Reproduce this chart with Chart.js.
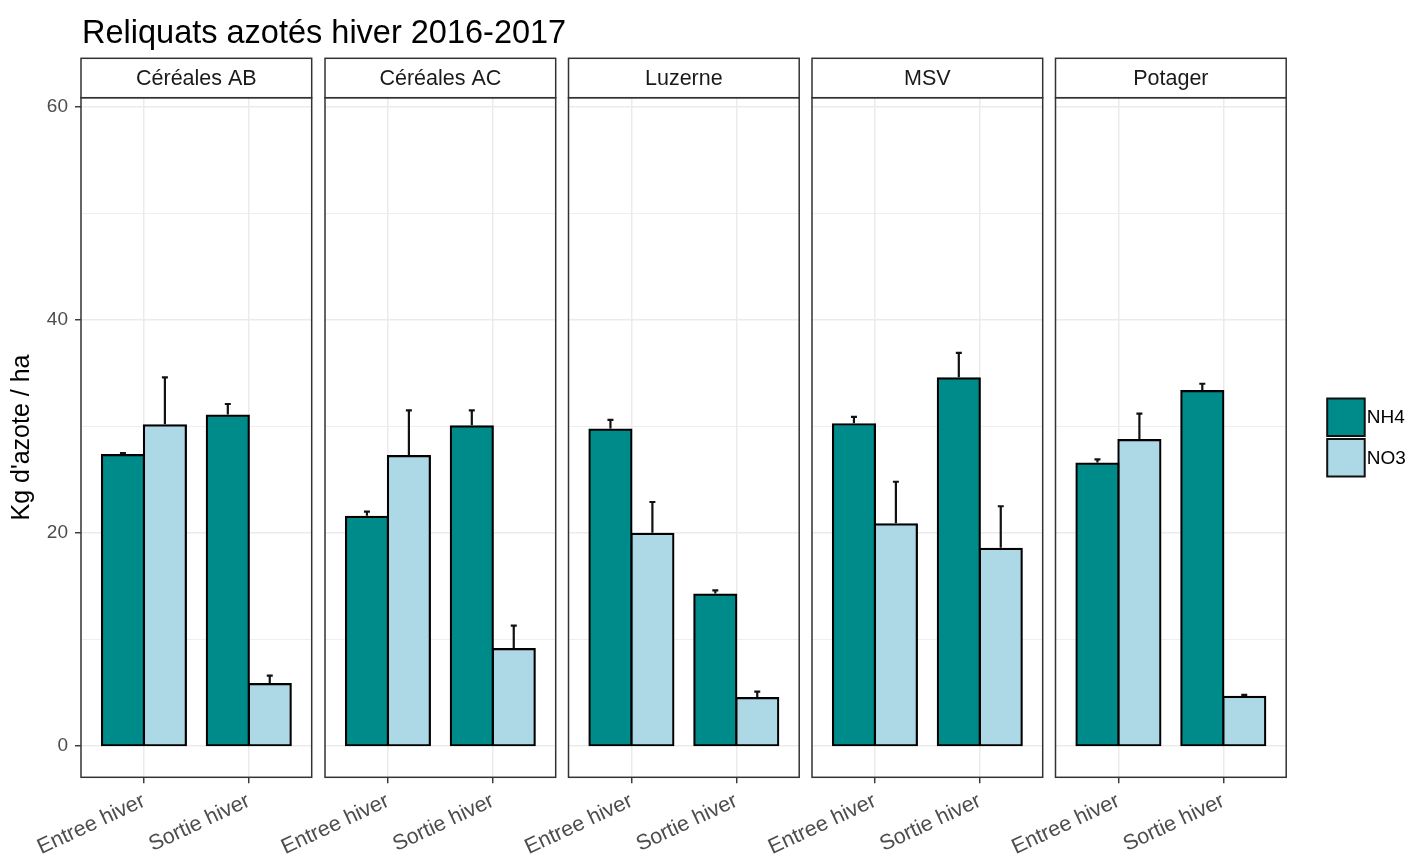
<!DOCTYPE html>
<html>
<head>
<meta charset="utf-8">
<script src="https://cdn.jsdelivr.net/npm/chart.js@4.4.0/dist/chart.umd.min.js"></script>
<style>
  html, body { margin: 0; padding: 0; background: #ffffff; }
  #stage { position: relative; width: 1421px; height: 854px; overflow: hidden; background: #ffffff; }
  #stage canvas { position: absolute; left: 0; top: 0; }
</style>
</head>
<body>
<div id="stage"></div>
<script>
// ---- data ----
const chartTitle = 'Reliquats azotés hiver 2016-2017';
const yAxisTitle = "Kg d'azote / ha";
const cultures = ['Céréales AB', 'Céréales AC', 'Luzerne', 'MSV', 'Potager'];
const periods = ['Entree hiver', 'Sortie hiver'];
const seriesNames = ['NH4', 'NO3'];
// mean per culture, [Entree hiver, Sortie hiver]
const nh4 = [[27.3, 31.0], [21.5, 30.0], [29.7, 14.2], [30.2, 34.5], [26.5, 33.3]];
const no3 = [[30.1, 5.8], [27.2, 9.1], [19.9, 4.5], [20.8, 18.5], [28.7, 4.6]];
// standard error per culture, [Entree hiver, Sortie hiver]
const nh4Err = [[0.2, 1.1], [0.5, 1.5], [0.9, 0.4], [0.7, 2.4], [0.4, 0.7]];
const no3Err = [[4.5, 0.8], [4.3, 2.2], [3.0, 0.6], [4.0, 4.0], [2.5, 0.2]];
const yGridValues = [0, 10, 20, 30, 40, 50, 60];
const yTickLabels = [0, 20, 40, 60];

// ---- layout & style ----
const W = 1421, H = 854;
const FONT = '"Liberation Sans", Arial, Helvetica, sans-serif';
const fills = ['#008B8B', '#ADD8E6'];
const panelLefts = [81, 325, 568.5, 812, 1055.5];
const panelWidth = 230.7;
const plotTop = 97.7, plotBottom = 777.3;
const stripHeight = 39.4;
const frameColor = '#333333';
const barLine = 2.2;

// panel border + facet strip
const facetFrame = {
  id: 'facetFrame',
  afterDraw(chart, args, opts) {
    const { ctx, chartArea: a } = chart;
    ctx.save();
    ctx.strokeStyle = frameColor;
    ctx.lineWidth = 1.5;
    ctx.strokeRect(a.left, a.top, a.right - a.left, a.bottom - a.top);
    ctx.fillStyle = '#ffffff';
    ctx.fillRect(a.left, a.top - stripHeight, a.right - a.left, stripHeight);
    ctx.strokeRect(a.left, a.top - stripHeight, a.right - a.left, stripHeight);
    ctx.fillStyle = '#1a1a1a';
    ctx.font = '21.5px ' + FONT;
    ctx.textAlign = 'center';
    ctx.textBaseline = 'middle';
    ctx.fillText(opts.label, (a.left + a.right) / 2, a.top - stripHeight / 2 + 1);
    ctx.restore();
  }
};

// upper error whiskers on each bar
const errorBars = {
  id: 'errorBars',
  afterDatasetsDraw(chart) {
    const { ctx } = chart;
    const yScale = chart.scales.y;
    ctx.save();
    ctx.strokeStyle = '#111111';
    ctx.lineWidth = 2.2;
    chart.data.datasets.forEach((ds, di) => {
      const meta = chart.getDatasetMeta(di);
      meta.data.forEach((bar, k) => {
        const v = ds.data[k].y;
        const top = yScale.getPixelForValue(v + ds.errors[k]);
        const base = yScale.getPixelForValue(v) - barLine / 2;
        ctx.beginPath();
        ctx.moveTo(bar.x, base);
        ctx.lineTo(bar.x, top);
        ctx.moveTo(bar.x - 3, top);
        ctx.lineTo(bar.x + 3, top);
        ctx.stroke();
      });
    });
    ctx.restore();
  }
};

// plot title, left-aligned on the first panel
const headline = {
  id: 'headline',
  afterDraw(chart) {
    const { ctx, chartArea: a } = chart;
    ctx.save();
    ctx.fillStyle = '#000000';
    ctx.font = '32.5px ' + FONT;
    ctx.textAlign = 'left';
    ctx.textBaseline = 'alphabetic';
    ctx.fillText(chartTitle, a.left + 1, 43);
    ctx.restore();
  }
};

// fill legend to the right of the last panel
const fillKey = {
  id: 'fillKey',
  afterDraw(chart) {
    const { ctx, chartArea: a } = chart;
    const x = a.right + 41, size = 37.5, gap = 3;
    let y = 398.5;
    ctx.save();
    ctx.font = '19px ' + FONT;
    ctx.textAlign = 'left';
    ctx.textBaseline = 'middle';
    chart.data.datasets.forEach(ds => {
      ctx.fillStyle = ds.backgroundColor;
      ctx.fillRect(x, y, size, size);
      ctx.strokeStyle = '#111111';
      ctx.lineWidth = 2;
      ctx.strokeRect(x, y, size, size);
      ctx.fillStyle = '#000000';
      ctx.fillText(ds.label, x + size + 2, y + size / 2 + 1);
      y += size + gap;
    });
    ctx.restore();
  }
};

const stage = document.getElementById('stage');

function makePanel(i) {
  const canvas = document.createElement('canvas');
  canvas.width = W;
  canvas.height = H;
  stage.appendChild(canvas);
  const first = i === 0;
  const last = i === cultures.length - 1;
  const series = [nh4[i], no3[i]];
  const errs = [nh4Err[i], no3Err[i]];

  const plugins = [facetFrame, errorBars];
  if (first) plugins.push(headline);
  if (last) plugins.push(fillKey);

  new Chart(canvas, {
    type: 'bar',
    data: {
      datasets: seriesNames.map((name, s) => ({
        label: name,
        data: series[s].map((v, k) => ({ x: k + 1, y: v })),
        errors: errs[s],
        backgroundColor: fills[s],
        borderColor: '#000000',
        borderWidth: barLine,
        inflateAmount: barLine / 2,
        borderSkipped: false,
        categoryPercentage: 0.8,
        barPercentage: 1.0
      }))
    },
    options: {
      responsive: false,
      animation: false,
      devicePixelRatio: 1,
      layout: {
        padding: {
          left: first ? 0 : panelLefts[i],
          right: W - (panelLefts[i] + panelWidth),
          top: plotTop,
          bottom: 0
        }
      },
      plugins: {
        legend: { display: false },
        tooltip: { enabled: false },
        facetFrame: { label: cultures[i] }
      },
      scales: {
        x: {
          type: 'linear',
          min: 0.4,
          max: 2.6,
          offset: false,
          afterBuildTicks: s => { s.ticks = periods.map((_, k) => ({ value: k + 1 })); },
          afterFit: s => { s.height = H - plotBottom; },
          grid: {
            offset: false,
            color: '#EBEBEB',
            lineWidth: 1.5,
            tickColor: frameColor,
            tickLength: 6,
            tickWidth: 1.4
          },
          border: { display: false },
          ticks: {
            autoSkip: false,
            minRotation: 25,
            maxRotation: 25,
            padding: 5,
            color: '#4D4D4D',
            font: { family: FONT, size: 21.5 },
            callback: v => periods[v - 1] || ''
          }
        },
        y: {
          min: -2.94,
          max: 60.85,
          afterBuildTicks: s => { s.ticks = yGridValues.map(v => ({ value: v })); },
          afterFit: s => { s.width = first ? 81 : 0; },
          grid: {
            color: '#EBEBEB',
            lineWidth: c => (c.tick && yTickLabels.includes(c.tick.value)) ? 1.5 : 0.8,
            drawTicks: first,
            tickLength: 6,
            tickWidth: 1.4,
            tickColor: c => (c.tick && yTickLabels.includes(c.tick.value)) ? frameColor : 'rgba(0,0,0,0)'
          },
          border: { display: false },
          ticks: {
            display: first,
            padding: 7,
            color: '#4D4D4D',
            font: { family: FONT, size: 19 },
            callback: v => yTickLabels.includes(v) ? String(v) : ''
          },
          title: {
            display: first,
            text: yAxisTitle,
            color: '#000000',
            font: { family: FONT, size: 25 },
            padding: { top: 7, bottom: 0 }
          }
        }
      }
    },
    plugins
  });
}

cultures.forEach((_, i) => makePanel(i));
</script>
</body>
</html>
